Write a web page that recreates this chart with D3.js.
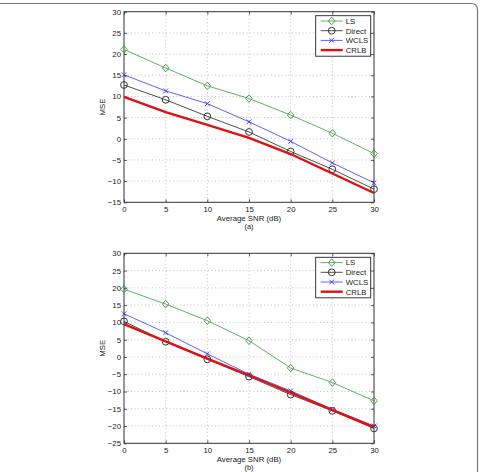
<!DOCTYPE html>
<html lang="en">
<head>
<meta charset="UTF-8">
<script src="https://cdn.jsdelivr.net/npm/d3@7"></script>
<style>
    body { margin: 0; background: #fff; }
    svg { display: block; font-family: "Liberation Sans", Arial, sans-serif; }
    .tick text { font-size: 7.8px; fill: #222; }
</style>
</head>
<body>
<script>
    // ---------- data ----------
    const snr = [0, 5, 10, 15, 20, 25, 30];

    // panel (a)
    const lsA = [21.1, 16.7, 12.5, 9.5, 5.6, 1.3, -3.5];
    const directA = [12.7, 9.2, 5.3, 1.6, -3.0, -7.2, -11.9];
    const wclsA = [15.1, 11.3, 8.3, 4.0, -0.6, -5.7, -10.4];
    const crlbA = [9.9, 6.3, 3.3, 0.2, -3.6, -8.2, -12.8];

    // panel (b)
    const lsB = [19.6, 15.3, 10.5, 4.7, -3.2, -7.4, -12.7];
    const directB = [10.3, 4.4, -0.7, -5.7, -10.9, -15.6, -20.7];
    const wclsB = [12.5, 7.0, 0.9, -5.0, -9.8, -15.2, -20.0];
    const crlbB = [9.5, 4.5, -0.5, -5.3, -10.3, -15.3, -20.3];

    const legendLabels = ["LS", "Direct", "WCLS", "CRLB"];
    const xTicks = [0, 5, 10, 15, 20, 25, 30];
    const yTicksA = [30, 25, 20, 15, 10, 5, 0, -5, -10, -15];
    const yTicksB = [30, 25, 20, 15, 10, 5, 0, -5, -10, -15, -20, -25];

    const styles = [
        {color: "#3c9a3c", width: 0.8, marker: "diamond"},
        {color: "#222", width: 0.8, marker: "circle"},
        {color: "#3a3aee", width: 0.8, marker: "x"},
        {color: "#e01010", width: 2.4, marker: null}
    ];

    const W = 480, H = 472;
    const svg = d3.select("body").append("svg").attr("width", W).attr("height", H);

    // frame (cropped rounded rectangle)
    svg.append("path")
        .attr("d", "M0,3.5 H471 Q477.5,3.5 477.5,10 V472")
        .attr("fill", "none").attr("stroke", "#777").attr("stroke-width", 1.2);

    function drawMarker(g, type, cx, cy, color) {
        if (type === "diamond") {
            g.append("path")
                .attr("d", `M${cx},${cy - 3.8}L${cx + 3.3},${cy}L${cx},${cy + 3.8}L${cx - 3.3},${cy}Z`)
                .attr("fill", "none").attr("stroke", color).attr("stroke-width", 0.9);
        } else if (type === "circle") {
            g.append("circle").attr("cx", cx).attr("cy", cy).attr("r", 3.4)
                .attr("fill", "none").attr("stroke", color).attr("stroke-width", 0.9);
        } else if (type === "x") {
            const s = 2.4;
            g.append("path")
                .attr("d", `M${cx - s},${cy - s}L${cx + s},${cy + s}M${cx - s},${cy + s}L${cx + s},${cy - s}`)
                .attr("stroke", color).attr("stroke-width", 0.9);
        }
    }

    function panel(top, bottom, yDomain, yTicks, series, caption) {
        const left = 124, right = 374;
        const x = d3.scaleLinear().domain([0, 30]).range([left, right]);
        const y = d3.scaleLinear().domain(yDomain).range([bottom, top]);
        const g = svg.append("g");

        // grid
        g.selectAll(".gx").data(xTicks.slice(1, -1)).join("line")
            .attr("x1", d => x(d)).attr("x2", d => x(d))
            .attr("y1", top).attr("y2", bottom)
            .attr("stroke", "#aaa").attr("stroke-width", 0.7).attr("stroke-dasharray", "1,2.5");
        g.selectAll(".gy").data(yTicks.slice(1, -1)).join("line")
            .attr("x1", left).attr("x2", right)
            .attr("y1", d => y(d)).attr("y2", d => y(d))
            .attr("stroke", "#aaa").attr("stroke-width", 0.7).attr("stroke-dasharray", "1,2.5");

        // axes, ticks inside on all four sides
        const ax = g.append("g").attr("transform", `translate(0,${bottom})`)
            .call(d3.axisBottom(x).tickValues(xTicks).tickSize(-3).tickPadding(4.3));
        const ay = g.append("g").attr("transform", `translate(${left},0)`)
            .call(d3.axisLeft(y).tickValues(yTicks).tickSize(-3).tickPadding(3)
                .tickFormat(d => d < 0 ? "\u2212" + Math.abs(d) : d));
        const axT = g.append("g").attr("transform", `translate(0,${top})`)
            .call(d3.axisTop(x).tickValues(xTicks).tickSize(-3).tickFormat(""));
        const ayR = g.append("g").attr("transform", `translate(${right},0)`)
            .call(d3.axisRight(y).tickValues(yTicks).tickSize(-3).tickFormat(""));
        [ax, ay, axT, ayR].forEach(a => {
            a.select(".domain").remove();
            a.selectAll(".tick line").attr("stroke", "#333").attr("stroke-width", 0.8);
        });
        g.append("rect").attr("x", left).attr("y", top)
            .attr("width", right - left).attr("height", bottom - top)
            .attr("fill", "none").attr("stroke", "#333").attr("stroke-width", 1);

        // series
        series.forEach((vals, i) => {
            const st = styles[i];
            const line = d3.line().x((d, j) => x(snr[j])).y(d => y(d));
            g.append("path").datum(vals).attr("d", line)
                .attr("fill", "none").attr("stroke", st.color).attr("stroke-width", st.width);
            if (st.marker) vals.forEach((v, j) => drawMarker(g, st.marker, x(snr[j]), y(v), st.color));
        });

        // legend
        const lx = 315.7, lw = 55, ly = top + 4, lh = 40.5;
        g.append("rect").attr("x", lx).attr("y", ly).attr("width", lw).attr("height", lh)
            .attr("fill", "#fff").attr("stroke", "#222").attr("stroke-width", 0.9);
        legendLabels.forEach((lab, i) => {
            const st = styles[i];
            const ey = ly + 5.3 + i * 9.7;
            g.append("line").attr("x1", lx + 5).attr("x2", lx + 27)
                .attr("y1", ey).attr("y2", ey)
                .attr("stroke", st.color).attr("stroke-width", st.width);
            if (st.marker) drawMarker(g, st.marker, lx + 16, ey, st.color);
            g.append("text").attr("x", lx + 30).attr("y", ey + 2.8)
                .attr("font-size", 7.8).attr("fill", "#222").text(lab);
        });

        // labels
        g.append("text").attr("x", (left + right) / 2).attr("y", bottom + 18.6)
            .attr("text-anchor", "middle").attr("font-size", 7.8).attr("fill", "#222")
            .text("Average SNR (dB)");
        g.append("text").attr("x", (left + right) / 2).attr("y", bottom + 27)
            .attr("text-anchor", "middle").attr("font-size", 7.4).attr("fill", "#222")
            .text(caption);
        g.append("text")
            .attr("transform", `translate(104.5,${(top + bottom) / 2}) rotate(-90)`)
            .attr("text-anchor", "middle").attr("font-size", 7.8).attr("fill", "#222")
            .text("MSE");
    }

    panel(11.7, 202.3, [-15, 30], yTicksA, [lsA, directA, wclsA, crlbA], "(a)");
    panel(253.3, 443.3, [-25, 30], yTicksB, [lsB, directB, wclsB, crlbB], "(b)");
</script>
</body>
</html>
